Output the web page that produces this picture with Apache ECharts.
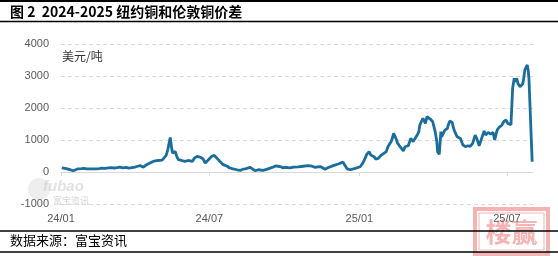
<!DOCTYPE html>
<html><head><meta charset="utf-8">
<script src="https://cdn.jsdelivr.net/npm/echarts@6/dist/echarts.min.js"></script>
<style>html,body{margin:0;padding:0;background:#fff}#c{width:558px;height:256px}</style>
</head><body><div id="c"></div>
<script>
const dates = [
'2024-01-02','2024-01-03','2024-01-06','2024-01-08','2024-01-11','2024-01-13','2024-01-16','2024-01-18','2024-01-22','2024-01-26',
'2024-01-29','2024-02-02','2024-02-06','2024-02-09','2024-02-13','2024-02-17','2024-02-20','2024-02-24','2024-02-28','2024-03-02',
'2024-03-06','2024-03-10','2024-03-13','2024-03-17','2024-03-21','2024-03-24','2024-03-28','2024-04-01','2024-04-04','2024-04-07',
'2024-04-11','2024-04-15','2024-04-19','2024-04-23','2024-04-25','2024-04-29','2024-05-04','2024-05-06','2024-05-09','2024-05-11',
'2024-05-14','2024-05-15','2024-05-16','2024-05-17','2024-05-20','2024-05-22','2024-05-24','2024-05-28','2024-06-01','2024-06-05',
'2024-06-10','2024-06-13','2024-06-16','2024-06-20','2024-06-22','2024-06-23','2024-06-26','2024-06-28','2024-07-01','2024-07-04',
'2024-07-07','2024-07-10','2024-07-14','2024-07-18','2024-07-23','2024-07-26','2024-07-30','2024-08-04','2024-08-08','2024-08-11',
'2024-08-14','2024-08-17','2024-08-20','2024-08-22','2024-08-26','2024-08-30','2024-09-01','2024-09-05','2024-09-07','2024-09-11',
'2024-09-13','2024-09-17','2024-09-20','2024-09-23','2024-09-26','2024-09-29','2024-10-02','2024-10-05','2024-10-08','2024-10-12',
'2024-10-14','2024-10-18','2024-10-20','2024-10-24','2024-10-26','2024-10-30','2024-11-01','2024-11-04','2024-11-08','2024-11-11',
'2024-11-14','2024-11-16','2024-11-20','2024-11-24','2024-11-26','2024-11-30','2024-12-02','2024-12-06','2024-12-08','2024-12-12',
'2024-12-14','2024-12-17','2024-12-18','2024-12-21','2024-12-23','2024-12-27','2024-12-29','2025-01-02','2025-01-05','2025-01-08',
'2025-01-10','2025-01-13','2025-01-15','2025-01-17','2025-01-19','2025-01-21','2025-01-24','2025-01-28','2025-01-30','2025-02-03',
'2025-02-05','2025-02-09','2025-02-11','2025-02-12','2025-02-14','2025-02-16','2025-02-17','2025-02-20','2025-02-22','2025-02-24',
'2025-02-26','2025-02-28','2025-03-02','2025-03-04','2025-03-05','2025-03-07','2025-03-08','2025-03-10','2025-03-13','2025-03-14',
'2025-03-15','2025-03-16','2025-03-18','2025-03-20','2025-03-23','2025-03-25','2025-03-26','2025-03-29','2025-03-31','2025-04-01',
'2025-04-04','2025-04-06','2025-04-07','2025-04-09','2025-04-11','2025-04-12','2025-04-14','2025-04-16','2025-04-19','2025-04-20',
'2025-04-22','2025-04-25','2025-04-26','2025-04-28','2025-05-01','2025-05-02','2025-05-05','2025-05-07','2025-05-08','2025-05-11',
'2025-05-13','2025-05-14','2025-05-17','2025-05-19','2025-05-20','2025-05-23','2025-05-25','2025-05-28','2025-05-31','2025-06-03',
'2025-06-05','2025-06-08','2025-06-11','2025-06-14','2025-06-16','2025-06-19','2025-06-21','2025-06-25','2025-06-27','2025-06-30',
'2025-07-02','2025-07-04','2025-07-06','2025-07-07','2025-07-08','2025-07-10','2025-07-11','2025-07-13','2025-07-15','2025-07-17',
'2025-07-20','2025-07-21','2025-07-23','2025-07-26','2025-07-27','2025-07-28','2025-07-30','2025-08-01'
];
const values = [
130,125,110,100,80,110,40,90,100,105,
110,95,100,95,100,105,120,110,130,140,
125,135,155,130,145,120,140,155,180,200,
150,230,280,330,385,360,370,415,520,700,
1080,1060,700,590,640,490,385,360,330,360,
330,440,490,460,490,415,280,330,415,490,
520,440,330,230,180,125,100,70,50,90,
100,120,145,90,40,70,60,50,80,100,
115,150,190,180,170,130,145,140,130,150,
170,160,170,180,190,200,210,180,145,160,
170,120,85,140,170,200,220,250,270,310,
220,100,40,70,100,115,120,165,270,425,
550,635,530,550,480,405,425,530,585,635,
790,950,1100,1210,1100,970,895,790,740,660,
790,845,820,870,1050,1100,950,1000,1155,1100,
1260,1450,1570,1680,1520,1730,1780,1655,1625,1570,
1260,950,635,550,1260,1100,1210,1310,1365,1470,
1595,1550,1415,1260,1100,1080,1050,1000,845,790,
760,820,800,850,895,1155,1050,820,1050,1280,
1155,1240,1180,1240,1000,1310,1385,1470,1570,1625,
1520,1500,1480,1470,2615,2930,2825,2930,2740,2665,
2740,2825,3190,3345,3190,2930,2880,320
];
const tickDates = ['2024-01-01','2024-07-01','2025-01-01','2025-07-01'];
const tickLabels = ['24/01','24/07','25/01','25/07'];
const axisStart = '2024-01-01';
const axisEnd = '2025-08-02';
const titleText = '图 2  2024-2025 纽约铜和伦敦铜价差';
const unitText = '美元/吨';
const sourceText = '数据来源：富宝资讯';
const stampText = '楼赢';

function ts(s){const p=s.split('-').map(Number);return new Date(p[0],p[1]-1,p[2]).getTime();}
const tickTs = tickDates.map(ts);
const chart = echarts.init(document.getElementById('c'), null, {renderer:'canvas'});
const pink = '#f5b3b3';
chart.setOption({
  animation:false,
  backgroundColor:'#fff',
  grid:{left:61,right:25,top:44,bottom:52},
  xAxis:{
    type:'value', min:ts(axisStart), max:ts(axisEnd), scale:true,
    axisLine:{onZero:true,lineStyle:{color:'#d9d9d9',width:1}},
    axisTick:{show:true,customValues:tickTs,length:4,lineStyle:{color:'#d9d9d9'}},
    axisLabel:{customValues:tickTs,margin:9,color:'#595959',fontSize:11,fontFamily:'Liberation Sans',
      formatter:function(v){const i=tickTs.indexOf(v);return i>=0?tickLabels[i]:'';}},
    splitLine:{show:false}
  },
  yAxis:{
    type:'value', min:-1000, max:4000, interval:1000,
    axisLine:{show:false}, axisTick:{show:false},
    axisLabel:{margin:12,color:'#595959',fontSize:11,fontFamily:'Liberation Sans',formatter:function(v){return String(v);}},
    splitLine:{lineStyle:{color:'#d9d9d9',type:[4,3],width:1}}
  },
  series:[{
    type:'line', showSymbol:false, symbol:'none',
    data:dates.map((d,i)=>[ts(d),values[i]]),
    lineStyle:{color:'#1b6d9c',width:2.8}, z:5
  }],
  graphic:[
    {type:'line',shape:{x1:0,y1:1,x2:558,y2:1},style:{stroke:'#000',lineWidth:2},z:10},
    {type:'text',left:10,top:5,style:{text:titleText,font:'bold 14px "Noto Sans CJK SC"',fill:'#000'},z:10},
    {type:'line',shape:{x1:0,y1:21.5,x2:558,y2:21.5},style:{stroke:'#000',lineWidth:1.5},z:10},
    {type:'text',left:62,top:50,style:{text:unitText,font:'12px "Noto Sans CJK SC"',fill:'#333'},z:10},
    {type:'group',left:28,top:178,z:1,children:[
      {type:'circle',shape:{cx:12,cy:12,r:11},style:{fill:'rgba(200,200,200,0.3)'}},
      {type:'text',x:16,y:2,style:{text:'fubao',font:'italic bold 15px "Liberation Sans"',fill:'rgba(190,190,190,0.45)'}},
      {type:'text',x:26,y:19,style:{text:'富宝资讯',font:'9px "Noto Sans CJK SC"',fill:'rgba(170,170,170,0.5)'}}
    ]},
    {type:'group',left:473,top:207,z:8,children:[
      {type:'rect',shape:{x:0,y:0,width:73,height:45},style:{fill:'#fff',stroke:pink,lineWidth:4}},
      {type:'rect',shape:{x:4,y:4,width:65,height:37},style:{fill:'none',stroke:pink,lineWidth:1}},
      {type:'text',x:36.5,y:23,style:{text:stampText,font:'bold 26px "Noto Sans CJK SC"',fill:pink,align:'center',verticalAlign:'middle'}}
    ]},
    {type:'line',shape:{x1:0,y1:231,x2:558,y2:231},style:{stroke:'#000',lineWidth:1.5},z:10},
    {type:'text',left:10,top:234,style:{text:sourceText,font:'13px "Noto Sans CJK SC"',fill:'#000'},z:10},
    {type:'line',shape:{x1:0,y1:252,x2:558,y2:252},style:{stroke:'#000',lineWidth:1.5},z:10}
  ]
});
</script></body></html>
